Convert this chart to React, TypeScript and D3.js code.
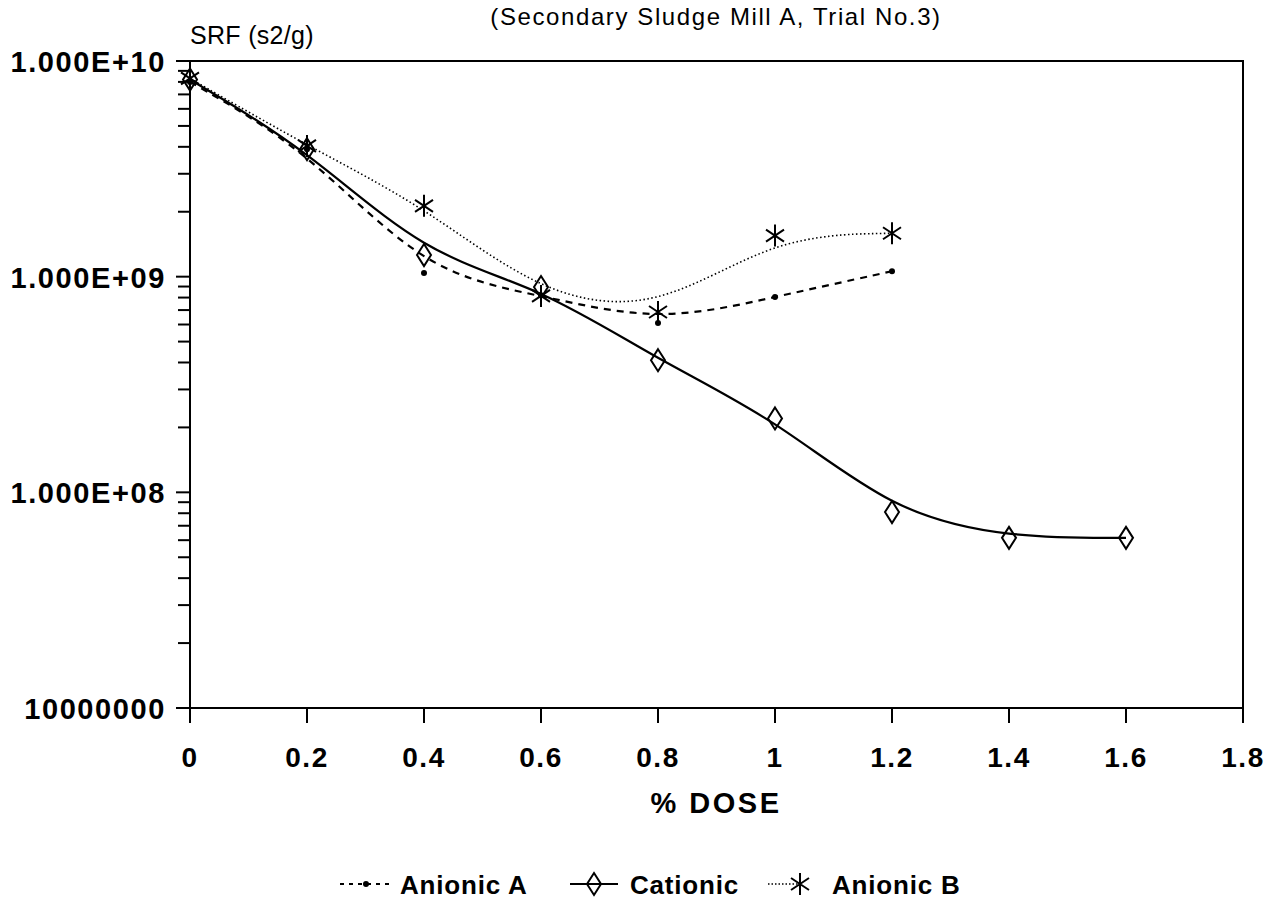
import React from "react";
import * as d3 from "d3";

const doseCationic = [0, 0.2, 0.4, 0.6, 0.8, 1.0, 1.2, 1.4, 1.6];
const srfCationic = [8.2e9, 3.9e9, 1.26e9, 8.95e8, 4.1e8, 2.2e8, 8.1e7, 6.15e7, 6.15e7];

const doseAnionicA = [0, 0.2, 0.4, 0.6, 0.8, 1.0, 1.2];
const srfAnionicA = [8.0e9, 3.9e9, 1.04e9, 8.2e8, 6.1e8, 8.05e8, 1.06e9];

const doseAnionicB = [0, 0.2, 0.4, 0.6, 0.8, 1.0, 1.2];
const srfAnionicB = [8.3e9, 4.04e9, 2.13e9, 8.14e8, 6.86e8, 1.55e9, 1.59e9];

const xTicks = [0, 0.2, 0.4, 0.6, 0.8, 1, 1.2, 1.4, 1.6, 1.8];
const yMajor = [1e10, 1e9, 1e8, 1e7];
const yMajorLabels = ["1.000E+10", "1.000E+09", "1.000E+08", "10000000"];

const titleText = "(Secondary Sludge Mill A, Trial No.3)";
const yTitle = "SRF (s2/g)";
const xTitle = "% DOSE";
const seriesNames = ["Anionic A", "Cationic", "Anionic B"];

const W = 1273, H = 915;
const L = 190, R = 1243, T = 61, B = 708;
const FONT = "'Liberation Sans', Arial, Helvetica, sans-serif";

function Diamond({ x, y }: { x: number; y: number }) {
  return <path d={`M${x},${y - 11}L${x + 7},${y}L${x},${y + 11}L${x - 7},${y}Z`} fill="none" stroke="#000" strokeWidth={2} />;
}
function Star({ x, y }: { x: number; y: number }) {
  const a = 11, dx = 9, dy = 6;
  return (
    <path
      d={`M${x},${y - a}L${x},${y + a}M${x - dx},${y - dy}L${x + dx},${y + dy}M${x - dx},${y + dy}L${x + dx},${y - dy}`}
      stroke="#000" strokeWidth={2} fill="none" />
  );
}

export default function App() {
  const x = d3.scaleLinear().domain([0, 1.8]).range([L, R]);
  const y = d3.scaleLog().domain([1e7, 1e10]).range([B, T]);
  const line = d3.line<[number, number]>().x(d => x(d[0])).y(d => y(d[1])).curve(d3.curveBasis);

  const cat: [number, number][] = doseCationic.map((d, i) => [d, srfCationic[i]]);
  const ana: [number, number][] = doseAnionicA.map((d, i) => [d, srfAnionicA[i]]);
  const anb: [number, number][] = doseAnionicB.map((d, i) => [d, srfAnionicB[i]]);

  const minor: number[] = [];
  for (let e = 7; e < 10; e++) for (let k = 2; k <= 9; k++) minor.push(k * Math.pow(10, e));

  return (
    <svg width={W} height={H} style={{ position: "absolute", left: 0, top: 0, background: "#fff" }} fontFamily={FONT}>
      <rect width={W} height={H} fill="#fff" />
      <text x={716} y={25} textAnchor="middle" fontSize={24} letterSpacing={1.6}>{titleText}</text>
      <text x={190} y={44} fontSize={25} letterSpacing={0.3}>{yTitle}</text>

      {/* frame */}
      <rect x={L} y={T} width={R - L} height={B - T} fill="none" stroke="#000" strokeWidth={2} />

      {/* y ticks */}
      {yMajor.map((v, i) => (
        <g key={"ym" + i}>
          <line x1={L - 14} x2={L} y1={y(v)} y2={y(v)} stroke="#000" strokeWidth={2} />
          <text x={L - 24} y={y(v) + 11} textAnchor="end" fontSize={29} fontWeight="bold" letterSpacing={1.6}>{yMajorLabels[i]}</text>
        </g>
      ))}
      {minor.map((v, i) => (
        <line key={"mn" + i} x1={L - 12} x2={L} y1={y(v)} y2={y(v)} stroke="#000" strokeWidth={2} />
      ))}

      {/* x ticks */}
      {xTicks.map((v, i) => (
        <g key={"xt" + i}>
          <line x1={x(v)} x2={x(v)} y1={B} y2={B + 15} stroke="#000" strokeWidth={2} />
          <text x={x(v)} y={767} textAnchor="middle" fontSize={28} fontWeight="bold" letterSpacing={1.5}>{String(v)}</text>
        </g>
      ))}
      <text x={716} y={813} textAnchor="middle" fontSize={29} fontWeight="bold" letterSpacing={2.5}>{xTitle}</text>

      {/* lines */}
      <path d={line(anb) || ""} fill="none" stroke="#000" strokeWidth={1.6} strokeDasharray="1.5,2.5" />
      <path d={line(ana) || ""} fill="none" stroke="#000" strokeWidth={2.2} strokeDasharray="7,6" />
      <path d={line(cat) || ""} fill="none" stroke="#000" strokeWidth={2.2} />

      {/* markers */}
      {ana.map((d, i) => <circle key={"a" + i} cx={x(d[0])} cy={y(d[1])} r={3} fill="#000" />)}
      {cat.map((d, i) => <Diamond key={"c" + i} x={x(d[0])} y={y(d[1])} />)}
      {anb.map((d, i) => <Star key={"b" + i} x={x(d[0])} y={y(d[1])} />)}

      {/* legend */}
      <g fontSize={26} fontWeight="bold" letterSpacing={0.8}>
        <line x1={340} x2={390} y1={884} y2={884} stroke="#000" strokeWidth={2} strokeDasharray="4,5" />
        <circle cx={366} cy={884} r={3} fill="#000" />
        <text x={400} y={894}>{seriesNames[0]}</text>

        <line x1={570} x2={618} y1={884} y2={884} stroke="#000" strokeWidth={2} />
        <Diamond x={594} y={884} />
        <text x={630} y={894}>{seriesNames[1]}</text>

        <line x1={768} x2={800} y1={884} y2={884} stroke="#000" strokeWidth={1.5} strokeDasharray="1.5,2" />
        <Star x={800} y={884} />
        <text x={832} y={894}>{seriesNames[2]}</text>
      </g>
    </svg>
  );
}
